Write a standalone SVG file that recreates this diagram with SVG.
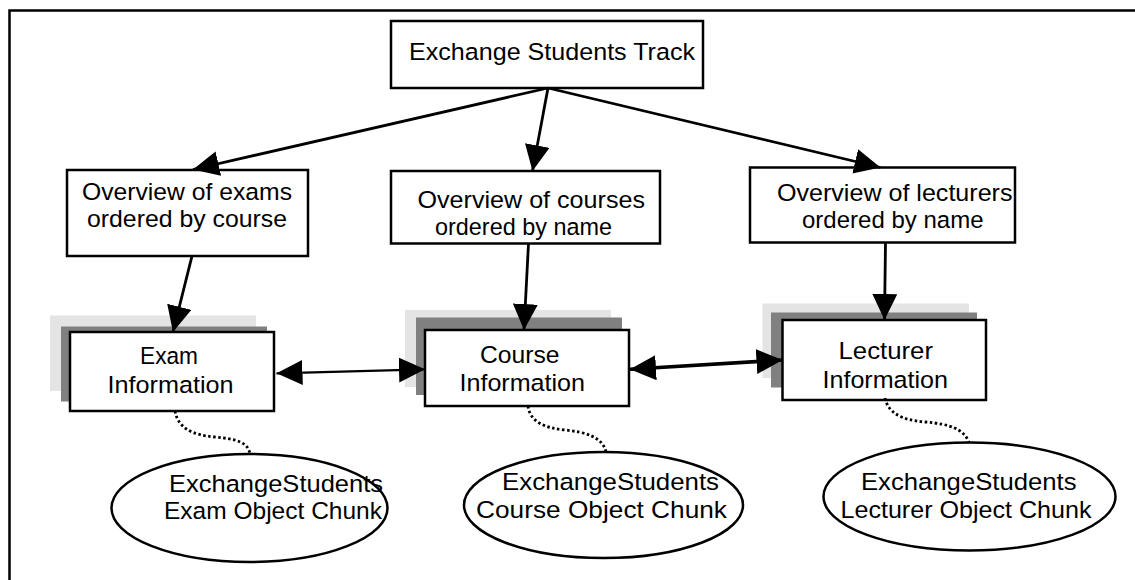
<svg xmlns="http://www.w3.org/2000/svg" width="1135" height="580" viewBox="0 0 1135 580">
<style>
text{font-family:"Liberation Sans",Arial,Helvetica,sans-serif;font-size:24.5px;fill:#000}
.box{fill:#fff;stroke:#000;stroke-width:2.5}
.light{fill:#e4e4e4}
.dark{fill:#808080}
.ell{fill:#fff;stroke:#000;stroke-width:2.5}
.conn{fill:none;stroke:#000}
.dot{fill:none;stroke:#000;stroke-width:2.8;stroke-dasharray:2.5 2.5}
</style>
<defs>
<marker id="ah" markerUnits="userSpaceOnUse" markerWidth="27" markerHeight="26" refX="26" refY="12.5" orient="auto-start-reverse" viewBox="0 0 27 26">
<path d="M0,0 L26,12.5 L0,25 z" fill="#000"/>
</marker>
</defs>
<rect width="1135" height="580" fill="#fff"/>
<path d="M9.5,580 V10.5 H1135" fill="none" stroke="#000" stroke-width="2.5"/>

<g id="track">
<rect class="box" x="391" y="21" width="312" height="67"/>
<text x="409" y="60" textLength="286" lengthAdjust="spacingAndGlyphs">Exchange Students Track</text>
</g>

<g id="overview-exams">
<rect class="box" x="67" y="170" width="241" height="86"/>
<text x="82" y="199.5" textLength="210" lengthAdjust="spacingAndGlyphs">Overview of exams</text>
<text x="87" y="227" textLength="200" lengthAdjust="spacingAndGlyphs">ordered by course</text>
</g>

<g id="overview-courses">
<rect class="box" x="391" y="171" width="269" height="72.5"/>
<text x="417.5" y="207.5" textLength="227.5" lengthAdjust="spacingAndGlyphs">Overview of courses</text>
<text x="435" y="234.5" textLength="177" lengthAdjust="spacingAndGlyphs">ordered by name</text>
</g>

<g id="overview-lecturers">
<rect class="box" x="750" y="167.5" width="265" height="75"/>
<text x="777" y="200.5" textLength="235.5" lengthAdjust="spacingAndGlyphs">Overview of lecturers</text>
<text x="802" y="227.5" textLength="181.5" lengthAdjust="spacingAndGlyphs">ordered by name</text>
</g>

<g id="exam-info">
<rect class="light" x="50" y="315.5" width="206" height="75.5"/>
<rect class="dark" x="61" y="326.5" width="206" height="75"/>
<rect class="box" x="70" y="332" width="204" height="79"/>
<text x="140" y="363.5" textLength="58" lengthAdjust="spacingAndGlyphs">Exam</text>
<text x="107.5" y="392.5" textLength="126" lengthAdjust="spacingAndGlyphs">Information</text>
</g>

<g id="course-info">
<rect class="light" x="405" y="310" width="206" height="77"/>
<rect class="dark" x="416" y="317.5" width="206" height="77.5"/>
<rect class="box" x="425" y="330" width="204" height="76"/>
<text x="480" y="363" textLength="79.5" lengthAdjust="spacingAndGlyphs">Course</text>
<text x="459.5" y="390.5" textLength="125.5" lengthAdjust="spacingAndGlyphs">Information</text>
</g>

<g id="lecturer-info">
<rect class="light" x="762.5" y="303.5" width="206.5" height="74.5"/>
<rect class="dark" x="771" y="312.5" width="206" height="75"/>
<rect class="box" x="782.5" y="320" width="203.5" height="80"/>
<text x="838.5" y="359" textLength="94.5" lengthAdjust="spacingAndGlyphs">Lecturer</text>
<text x="822.5" y="387.5" textLength="125.5" lengthAdjust="spacingAndGlyphs">Information</text>
</g>

<g id="exam-chunk">
<ellipse class="ell" cx="249.5" cy="508" rx="138" ry="54"/>
<text x="169" y="492" textLength="214" lengthAdjust="spacingAndGlyphs">ExchangeStudents</text>
<text x="164" y="519" textLength="218" lengthAdjust="spacingAndGlyphs">Exam Object Chunk</text>
</g>

<g id="course-chunk">
<ellipse class="ell" cx="603.5" cy="505" rx="139.5" ry="53"/>
<text x="502" y="490" textLength="217" lengthAdjust="spacingAndGlyphs">ExchangeStudents</text>
<text x="476" y="517.5" textLength="251" lengthAdjust="spacingAndGlyphs">Course Object Chunk</text>
</g>

<g id="lecturer-chunk">
<ellipse class="ell" cx="969.5" cy="496.5" rx="146" ry="54"/>
<text x="861" y="490" textLength="215.5" lengthAdjust="spacingAndGlyphs">ExchangeStudents</text>
<text x="840.5" y="517.5" textLength="251" lengthAdjust="spacingAndGlyphs">Lecturer Object Chunk</text>
</g>

<g id="connectors">
<line class="conn" stroke-width="2.8" x1="548" y1="88" x2="193" y2="169.5" marker-end="url(#ah)"/>
<line class="conn" stroke-width="2.8" x1="548" y1="88" x2="532.5" y2="171" marker-end="url(#ah)"/>
<line class="conn" stroke-width="2.8" x1="548" y1="88" x2="880.5" y2="167.5" marker-end="url(#ah)"/>
<line class="conn" stroke-width="2.8" x1="192" y1="256" x2="173" y2="332" marker-end="url(#ah)"/>
<line class="conn" stroke-width="2.8" x1="528.5" y1="243.5" x2="524" y2="330" marker-end="url(#ah)"/>
<line class="conn" stroke-width="2.8" x1="885.5" y1="242.5" x2="884.5" y2="320" marker-end="url(#ah)"/>
<line class="conn" stroke-width="2.2" x1="276.5" y1="373.3" x2="425" y2="369.3" marker-start="url(#ah)" marker-end="url(#ah)"/>
<line class="conn" stroke-width="3.5" x1="630" y1="369.3" x2="782.5" y2="360" marker-start="url(#ah)" marker-end="url(#ah)"/>
<path class="dot" d="M175,411 C178,428 192,435 215,437 C236,439 248,442 250,454"/>
<path class="dot" d="M528,406 C530,422 545,428 565,430 C585,432 603,437 606,452"/>
<path class="dot" d="M885,398 C888,412 900,420 925,422 C950,424 964,429 969,442.5"/>
</g>
</svg>
